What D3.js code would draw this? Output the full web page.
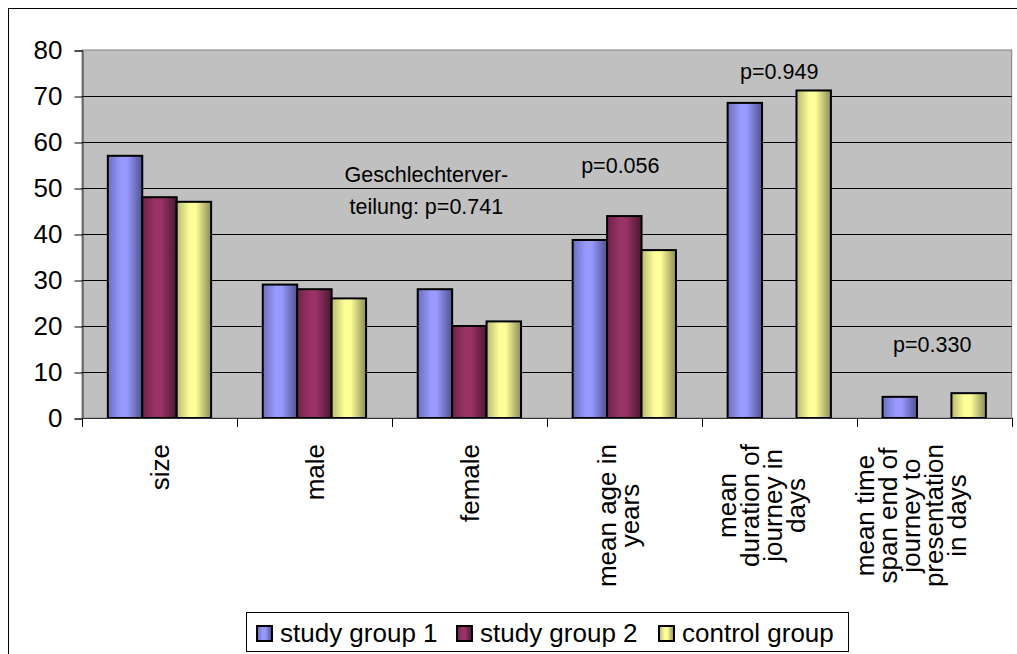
<!DOCTYPE html>
<html>
<head>
<meta charset="utf-8">
<script src="https://cdn.jsdelivr.net/npm/d3@7"></script>
<style>
  body { margin: 0; background: #fff; }
  svg { display: block; font-family: "Liberation Sans", Arial, sans-serif; }
</style>
</head>
<body>
<div class="graph_bars"></div>
<script>
// categories (label lines) and series values
const categories = [
    ["size"],
    ["male"],
    ["female"],
    ["mean age in", "years"],
    ["mean", "duration of", "journey in", "days"],
    ["mean time", "span end of", "journey to", "presentation", "in days"]
];
const seriesNames = ["study group 1", "study group 2", "control group"];
const group1 = [57, 29, 28, 38.7, 68.5, 4.6];
const group2 = [48, 28, 20, 43.9, null, null];
const control = [47, 26, 21, 36.5, 71.2, 5.4];
const yTicks = [0, 10, 20, 30, 40, 50, 60, 70, 80];
// p-value notes: category index, y value for the baseline
const notes = [
    {text: "Geschlechterver-", cat: 2, dx: -43, y: 51.2},
    {text: "teilung: p=0.741", cat: 2, dx: -43, y: 44.4},
    {text: "p=0.056", cat: 3, dx: -4, y: 53.3},
    {text: "p=0.949", cat: 4, dx: 0, y: 73.6},
    {text: "p=0.330", cat: 5, dx: -2, y: 14.4}
];

const colors = {
    "study group 1": ["#6c70bb", "#9999ff", "#9999ff", "#4f5290"],
    "study group 2": ["#6e2449", "#993366", "#993366", "#4a1831"],
    "control group": ["#b8b872", "#ffff99", "#ffff99", "#8b8b58"]
};

const width = 1017, height = 654;
const margin = {top: 50, left: 82, right: 1011.7, bottom: 418};

const svg = d3.select(".graph_bars").append("svg")
    .attr("width", width).attr("height", height);

// gradients for the bars
const defs = svg.append("defs");
seriesNames.forEach((s, i) => {
    const g = defs.append("linearGradient").attr("id", "grad" + i)
        .attr("x1", "0%").attr("x2", "100%").attr("y1", "0%").attr("y2", "0%");
    [0, 0.38, 0.55, 1].forEach((o, j) => {
        g.append("stop").attr("offset", o).attr("stop-color", colors[s][j]);
    });
});

// outer frame
svg.append("rect")
    .attr("x", 8.5).attr("y", 8.5)
    .attr("width", 1100).attr("height", 700)
    .attr("fill", "#fff").attr("stroke", "#000").attr("stroke-width", 1);

const x0 = d3.scaleBand()
    .domain(d3.range(categories.length))
    .range([margin.left, margin.right]);
const cw = x0.bandwidth();
const barW = cw / 4.5;
const x1 = d3.scaleBand()
    .domain(seriesNames)
    .range([barW * 0.75, cw - barW * 0.75]);

const y = d3.scaleLinear()
    .domain([0, 80])
    .range([margin.bottom, margin.top]);

// plot area
svg.append("rect")
    .attr("x", margin.left).attr("y", margin.top)
    .attr("width", margin.right - margin.left)
    .attr("height", margin.bottom - margin.top)
    .attr("fill", "#c0c0c0").attr("stroke", "#808080").attr("stroke-width", 1);

// gridlines
svg.append("g")
    .selectAll("line")
    .data(yTicks.filter(t => t > 0 && t < 80))
    .join("line")
    .attr("x1", margin.left).attr("x2", margin.right)
    .attr("y1", d => Math.round(y(d)) + 0.5)
    .attr("y2", d => Math.round(y(d)) + 0.5)
    .attr("stroke", "#000").attr("stroke-width", 1);

// bars
const allSeries = [group1, group2, control];
const barData = [];
allSeries.forEach((vals, si) => {
    vals.forEach((v, ci) => {
        if (v !== null) barData.push({s: seriesNames[si], si: si, ci: ci, v: v});
    });
});
svg.append("g")
    .selectAll("rect")
    .data(barData)
    .join("rect")
    .attr("x", d => x0(d.ci) + x1(d.s))
    .attr("y", d => y(d.v))
    .attr("width", x1.bandwidth())
    .attr("height", d => y(0) - y(d.v))
    .attr("fill", d => `url(#grad${d.si})`)
    .attr("stroke", "#000").attr("stroke-width", 2);

// y axis
const yAxis = d3.axisLeft(y).tickValues(yTicks).tickSize(8).tickPadding(12);
const ya = svg.append("g").attr("transform", `translate(${margin.left + 0.5}, 0.5)`).call(yAxis);
ya.select(".domain").attr("stroke", "#333");
ya.selectAll(".tick line").attr("stroke", "#000");
ya.selectAll(".tick text")
    .attr("font-size", 26)
    .attr("font-family", "Liberation Sans, Arial, sans-serif")
    .attr("fill", "#000");

// x axis line and category separators
svg.append("line")
    .attr("x1", margin.left).attr("x2", margin.right)
    .attr("y1", margin.bottom + 0.5).attr("y2", margin.bottom + 0.5)
    .attr("stroke", "#333");
svg.append("g")
    .selectAll("line")
    .data(d3.range(categories.length + 1))
    .join("line")
    .attr("x1", d => Math.round(margin.left + d * cw) + 0.5)
    .attr("x2", d => Math.round(margin.left + d * cw) + 0.5)
    .attr("y1", margin.bottom)
    .attr("y2", margin.bottom + 9)
    .attr("stroke", "#000");

// rotated category labels, lines centered on each other
const labelTop = 444;
const lineH = 23;
categories.forEach((lines, ci) => {
    const cx = x0(ci) + cw / 2;
    const n = lines.length;
    const g = svg.append("g");
    const texts = g.selectAll("text")
        .data(lines)
        .join("text")
        .attr("font-size", 26)
        .attr("fill", "#000")
        .attr("text-anchor", "middle")
        .text(d => d);
    const maxLen = d3.max(texts.nodes(), t => t.getComputedTextLength());
    const cy = labelTop + maxLen / 2;
    texts.attr("transform", (d, i) => {
        const bx = cx + 9.5 + (i - (n - 1) * 0.76) * lineH;
        return `translate(${bx}, ${cy}) rotate(-90)`;
    });
});

// p-value notes
svg.append("g")
    .selectAll("text")
    .data(notes)
    .join("text")
    .attr("x", d => x0(d.cat) + cw / 2 + d.dx)
    .attr("y", d => y(d.y))
    .attr("text-anchor", "middle")
    .attr("font-size", 21.5)
    .attr("fill", "#000")
    .text(d => d.text);

// legend
const legend = svg.append("g");
legend.append("rect")
    .attr("x", 246.5).attr("y", 612.5)
    .attr("width", 602).attr("height", 39)
    .attr("fill", "#fff").attr("stroke", "#000");
const legendX = [256, 456, 658];
const items = legend.selectAll("g")
    .data(seriesNames)
    .join("g")
    .attr("transform", (d, i) => `translate(${legendX[i]}, 625)`);
items.append("rect")
    .attr("x", 1).attr("y", 1)
    .attr("width", 15).attr("height", 15)
    .attr("fill", (d, i) => `url(#grad${i})`)
    .attr("stroke", "#000").attr("stroke-width", 2);
items.append("text")
    .attr("x", 24).attr("y", 17)
    .attr("font-size", 26)
    .attr("fill", "#000")
    .text(d => d);
</script>
</body>
</html>
